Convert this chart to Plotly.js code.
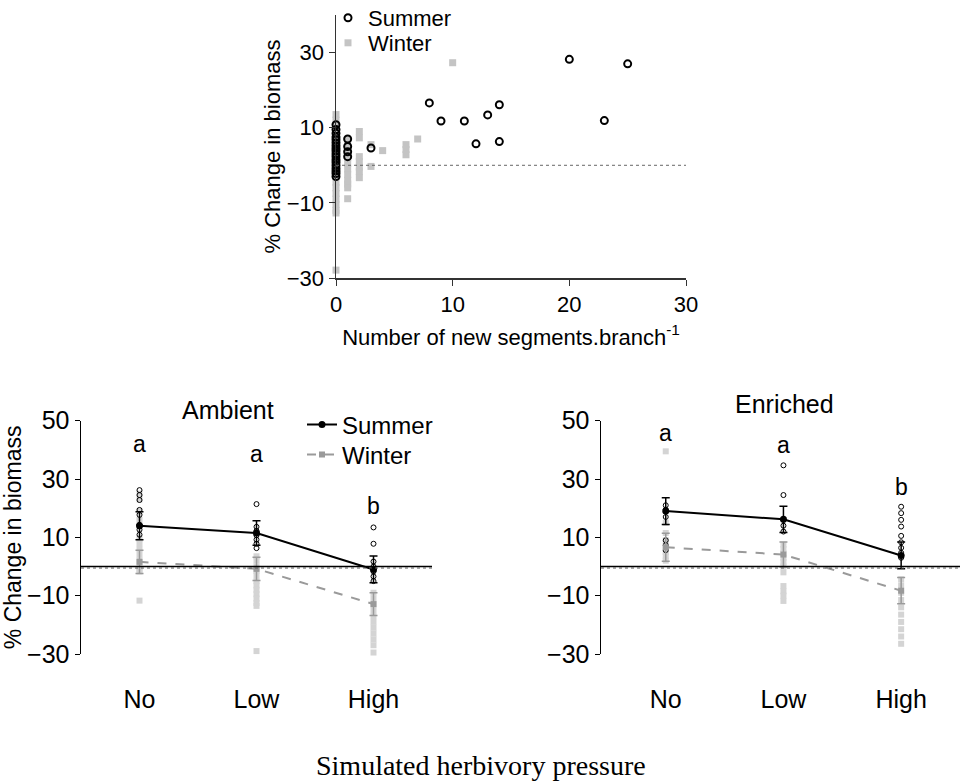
<!DOCTYPE html>
<html><head><meta charset="utf-8">
<script src="https://cdn.plot.ly/plotly-3.0.1.min.js"></script>
<style>html,body{margin:0;padding:0;background:#fff}#c{width:962px;height:781px}</style>
</head><body><div id="c"></div>
<script>
// ---- Top panel: scatter of % change vs number of new segments ----
const topSummerX = [0,0,0,0,0,0,0,0,0,0,0,0,0,0,0,0,0,0, 1,1,1,1, 3, 8, 9, 11, 12, 13, 14, 14, 20, 23, 25];
const topSummerY = [10.8,9.5,8.5,7.5,6.8,6,5.2,4.5,3.8,3,2.3,1.5,0.8,0,-0.8,-1.5,-2.2,-3, 7.0,5.0,3.6,2.3, 4.6, 16.6, 11.8, 11.8, 5.7, 13.4, 16.1, 6.3, 28.2, 11.9, 27.0];
const topWinterX = [0,0,0,0,0,0,0,0,0,0,0,0,0,0,0,0,0,0,0,0, 1,1,1,1,1,1,1,1,1,1,1, 2,2,2,2,2,2,2, 3,3, 4, 6,6,6, 7, 10];
const topWinterY = [13.5,12,10.5,9,7.5,6,4.5,3,1.5,0,-1.5,-3,-4.5,-6,-7.5,-9,-10.5,-12,-12.7,-27.9, 6.8,5,3.5,2,0.5,-1,-2.5,-4,-5,-6,-8.9, 9,7.3,2.3,1,-0.5,-1.7,-3.3, 5.5,-0.3, 3.9, 5.5,4.2,2.8, 7, 27.3];

// ---- Bottom panels ----
const categories = ['No','Low','High'];
// Ambient raw values per category
const ambSummerRaw = [[26.2,24.5,22.8,19.4,17.7,14.3,12.6,10.9],[21.4,13.6,12.2,10.7,9.2,7.8,6.3],[13.4,7.8,1.7,0,-1.7,-3.4,-5]];
const ambWinterRaw = [[25,23,19,16,9.6,8,6,4,2,0,-1,-1.7,-11.7],[3.5,2,0,-1.5,-3,-5,-6.5,-8,-9.5,-11,-12.5,-13.5,-29],[-9,-11,-13,-15,-17,-19,-21,-23,-25,-27,-29.5]];
const ambSummerMean = [14.0, 11.5, -1.0];
const ambSummerErr = [4.8, 4.2, 4.6];
const ambWinterMean = [1.6, -0.8, -12.9];
const ambWinterErr = [4.0, 4.0, 3.9];
// Enriched raw values per category
const enrSummerRaw = [[21,19.5,17,9,7.3,5.6],[34.7,24.5,16,14,12],[20.5,18.3,16,13.7,10.5,8.3,6.4,4.7,3]];
const enrWinterRaw = [[39.5,15,11.5,9,7,5,3.5,2],[7.5,6,4.5,3,1.5,0,-2,-6.7,-8.5,-10,-11.8],[-4.4,-6.5,-9,-11.5,-14,-16.5,-19,-21.5,-24,-26.5]];
const enrSummerMean = [19.0, 16.2, 3.8];
const enrSummerErr = [4.6, 4.5, 4.6];
const enrWinterMean = [6.6, 4.1, -8.3];
const enrWinterErr = [4.8, 4.3, 4.5];
const ambLetters = ['a','a','b'];
const ambLetterY = [42.1, 38.7, 20.9];
const enrLetters = ['a','a','b'];
const enrLetterY = [45.9, 41.8, 27.4];

const catIdx = categories.map((c,i)=>i);
function flatten(raw){ const xs=[], ys=[]; raw.forEach((vals,i)=>vals.forEach(v=>{xs.push(i);ys.push(v);})); return {xs,ys}; }

const FONT = 'Liberation Sans, Arial, sans-serif';
const traces = [];
// top
traces.push({x:topWinterX, y:topWinterY, type:'scatter', mode:'markers', name:'Winter', xaxis:'x', yaxis:'y', cliponaxis:false,
  marker:{symbol:'square', size:7, color:'#c4c4c4'}, legend:'legend3'});
traces.push({x:topSummerX, y:topSummerY, type:'scatter', mode:'markers', name:'Summer', xaxis:'x', yaxis:'y', cliponaxis:false,
  marker:{symbol:'circle-open', size:7, color:'#000', line:{width:2, color:'#000'}}, legend:'legend'});

function panel(xa, ya, sRaw, wRaw, sMean, sErr, wMean, wErr, showLeg){
  const w = flatten(wRaw), s = flatten(sRaw);
  traces.push({x:w.xs, y:w.ys, type:'scatter', mode:'markers', xaxis:xa, yaxis:ya, showlegend:false, cliponaxis:false,
    marker:{symbol:'square', size:6, color:'#d4d4d4'}});
  traces.push({x:s.xs, y:s.ys, type:'scatter', mode:'markers', xaxis:xa, yaxis:ya, showlegend:false, cliponaxis:false,
    marker:{symbol:'circle-open', size:5, color:'#000', line:{width:1, color:'#000'}}});
  traces.push({x:catIdx, y:wMean, type:'scatter', mode:'lines+markers', name:'Winter', xaxis:xa, yaxis:ya, showlegend:showLeg, legend:'legend4', cliponaxis:false,
    line:{color:'#9a9a9a', width:2, dash:'dash'}, marker:{symbol:'square', size:6, color:'#9a9a9a'},
    error_y:{type:'data', array:wErr, visible:true, color:'#9a9a9a', thickness:1.5, width:4}});
  traces.push({x:catIdx, y:sMean, type:'scatter', mode:'lines+markers', name:'Summer', xaxis:xa, yaxis:ya, showlegend:showLeg, legend:'legend2', cliponaxis:false,
    line:{color:'#000', width:2}, marker:{symbol:'circle', size:7, color:'#000'},
    error_y:{type:'data', array:sErr, visible:true, color:'#000', thickness:1.5, width:4}});
}
panel('x2','y2', ambSummerRaw, ambWinterRaw, ambSummerMean, ambSummerErr, ambWinterMean, ambWinterErr, true);
panel('x3','y3', enrSummerRaw, enrWinterRaw, enrSummerMean, enrSummerErr, enrWinterMean, enrWinterErr, false);

const annotations = [];
ambLetters.forEach((t,i)=>annotations.push({x:i, y:ambLetterY[i], xref:'x2', yref:'y2', text:t, showarrow:false, font:{family:FONT, size:23, color:'#000'}}));
enrLetters.forEach((t,i)=>annotations.push({x:i, y:enrLetterY[i], xref:'x3', yref:'y3', text:t, showarrow:false, font:{family:FONT, size:23, color:'#000'}}));
annotations.push({x:228/962, y:1-410/781, xref:'paper', yref:'paper', xanchor:'center', yanchor:'middle', text:'Ambient', showarrow:false, font:{family:FONT, size:25, color:'#000'}});
annotations.push({x:784/962, y:1-404/781, xref:'paper', yref:'paper', xanchor:'center', yanchor:'middle', text:'Enriched', showarrow:false, font:{family:FONT, size:25, color:'#000'}});
annotations.push({x:481/962, y:1-765/781, xref:'paper', yref:'paper', xanchor:'center', yanchor:'middle', text:'Simulated herbivory pressure', showarrow:false, font:{family:'Liberation Serif, Times New Roman, serif', size:28, color:'#000'}});

const shapes = [
  {type:'line', xref:'x', yref:'y', x0:0, x1:30, y0:0, y1:0, line:{color:'#666', width:1, dash:'dot'}},
  {type:'line', xref:'x2', yref:'y2', x0:-0.5, x1:2.5, y0:0, y1:0, line:{color:'#000', width:1.5}},
  {type:'line', xref:'x2', yref:'y2', ysizemode:'pixel', yanchor:0, x0:-0.5, x1:2.5, y0:-1.5, y1:-1.5, line:{color:'#555', width:1, dash:'dot'}},
  {type:'line', xref:'x3', yref:'y3', x0:-0.55, x1:2.5, y0:0, y1:0, line:{color:'#000', width:1.5}},
  {type:'line', xref:'x3', yref:'y3', ysizemode:'pixel', yanchor:0, x0:-0.55, x1:2.5, y0:-1.5, y1:-1.5, line:{color:'#555', width:1, dash:'dot'}}
];

const botY = {range:[-30,50], tickvals:[-30,-10,10,30,50], showline:true, linecolor:'#000', linewidth:1.5, ticks:'outside', ticklen:5, tickcolor:'#000',
  zeroline:false, showgrid:false, tickfont:{family:FONT, size:25, color:'#000'}, domain:[1-654/781, 1-420.7/781]};
const botX = {tickvals:catIdx, ticktext:categories, showline:false, ticks:'', zeroline:false, showgrid:false,
  tickfont:{family:FONT, size:25, color:'#000'}, ticklabelstandoff:28};

function leg(xpx, ypx, size){
  return {x:xpx/962, y:1-ypx/781, xanchor:'left', yanchor:'middle', bgcolor:'rgba(0,0,0,0)', borderwidth:0,
    font:{family:FONT, size:size, color:'#000'}, itemwidth:30, tracegroupgap:0};
}

const layout = {
  width:962, height:781, margin:{l:0,r:0,t:0,b:0, autoexpand:false}, paper_bgcolor:'#fff', plot_bgcolor:'rgba(0,0,0,0)',
  font:{family:FONT, color:'#000'},
  xaxis:{domain:[336/962, 686/962], anchor:'y', range:[0,30], tickvals:[0,10,20,30], showline:true, linecolor:'#333', linewidth:1.5,
    ticks:'outside', ticklen:6, tickcolor:'#333', zeroline:false, showgrid:false, tickfont:{family:FONT, size:22, color:'#000'},
    title:{text:'Number of new segments.branch<sup>-1</sup>', font:{family:FONT, size:22, color:'#000'}, standoff:13}},
  yaxis:{domain:[1-278/781, 1-15/781], anchor:'x', range:[-30,40], tickvals:[-30,-10,10,30], showline:true, linecolor:'#333', linewidth:1.5,
    ticks:'outside', ticklen:6, tickcolor:'#333', zeroline:false, showgrid:false, tickfont:{family:FONT, size:22, color:'#000'},
    title:{text:'% Change in biomass', font:{family:FONT, size:22, color:'#000'}, standoff:0}},
  xaxis2:Object.assign({}, botX, {domain:[81/962, 432/962], anchor:'y2', range:[-0.5,2.5]}),
  yaxis2:Object.assign({}, botY, {anchor:'x2', title:{text:'% Change in biomass', font:{family:FONT, size:23, color:'#000'}, standoff:0}}),
  xaxis3:Object.assign({}, botX, {domain:[601/962, 960/962], anchor:'y3', range:[-0.55,2.5]}),
  yaxis3:Object.assign({}, botY, {anchor:'x3'}),
  legend:leg(328, 18, 22),
  legend3:leg(328, 43, 22),
  legend2:leg(302, 425, 24),
  legend4:leg(302, 455, 24),
  shapes:shapes, annotations:annotations, showlegend:true
};
Plotly.newPlot('c', traces, layout, {staticPlot:true, displayModeBar:false});
</script></body></html>
